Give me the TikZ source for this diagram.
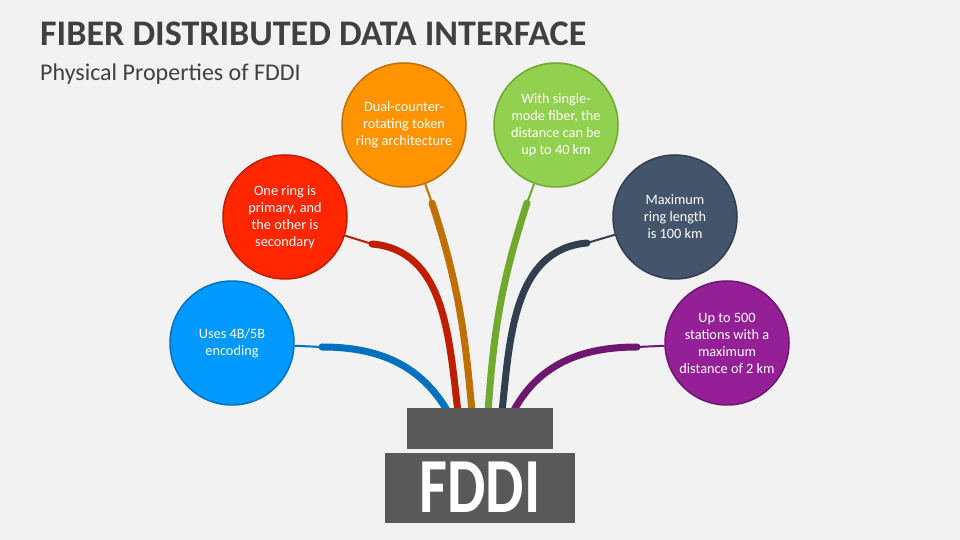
\documentclass[tikz,border=0pt]{standalone}
\usepackage{fontspec}
\usepackage{graphicx}
\setmainfont{Carlito}

\definecolor{bg}{HTML}{F2F2F2}
\definecolor{ink}{HTML}{404040}
\definecolor{plug}{HTML}{595959}
\definecolor{blueF}{HTML}{0099FF}\definecolor{blueD}{HTML}{0070C0}
\definecolor{redF}{HTML}{FF2600}\definecolor{redD}{HTML}{BF1E00}
\definecolor{orangeF}{HTML}{FF9300}\definecolor{orangeD}{HTML}{BF7000}
\definecolor{greenF}{HTML}{92D050}\definecolor{greenD}{HTML}{6FAA2F}
\definecolor{navyF}{HTML}{44546A}\definecolor{navyD}{HTML}{323F4F}
\definecolor{purpleF}{HTML}{941F96}\definecolor{purpleD}{HTML}{6E1770}

\tikzstyle{bubble} = [circle, minimum size = 124pt, inner sep = 0pt, line width = 1.5pt, text = white, align = center, font = \fontsize{14.3}{17}\selectfont]
\tikzstyle{lead} = [line width = 2pt]
\tikzstyle{fiber} = [line width = 7pt, line cap = round]
\tikzstyle{plugbox} = [fill = plug, draw = none]

\begin{document}
\begin{tikzpicture}[x = 1pt, y = 1pt]

    \useasboundingbox[fill = bg] (0,0) rectangle (960,540);

    \node(title)[anchor = base west, text = ink, font = \fontsize{36}{40}\selectfont\bfseries, inner sep = 0pt] at (40,494) {FIBER DISTRIBUTED DATA INTERFACE};
    \node(sub)[anchor = base west, text = ink, font = \fontsize{24}{28}\selectfont, inner sep = 0pt] at (40,459) {Physical Properties of FDDI};

    % bubbles
    \node(enc)[bubble, fill = blueF, draw = blueD] at (232,197) {Uses 4B/5B\\encoding};
    \node(ring)[bubble, fill = redF, draw = redD] at (285,323) {One ring is\\primary, and\\the other is\\secondary};
    \node(arch)[bubble, fill = orangeF, draw = orangeD] at (404,415) {Dual-counter-\\rotating token\\ring architecture};
    \node(mode)[bubble, fill = greenF, draw = greenD] at (556,415) {With single-\\mode fiber, the\\distance can be\\up to 40 km};
    \node(len)[bubble, fill = navyF, draw = navyD] at (675,323) {Maximum\\ring length\\is 100 km};
    \node(sta)[bubble, fill = purpleF, draw = purpleD] at (727,197) {Up to 500\\stations with a\\maximum\\distance of 2 km};

    % joints and plug entries
    \coordinate(encj) at (322,193);  \coordinate(ence) at (448,128);
    \coordinate(ringj) at (372,296); \coordinate(ringe) at (458,128);
    \coordinate(archj) at (432,337); \coordinate(arche) at (472,128);
    \coordinate(modej) at (527,337); \coordinate(modee) at (488,128);
    \coordinate(lenj) at (587,297);  \coordinate(lene) at (502,128);
    \coordinate(staj) at (637,193);  \coordinate(stae) at (513,128);

    \draw[lead, blueD](enc) -- (encj);
    \draw[lead, redD](ring) -- (ringj);
    \draw[lead, orangeD](arch) -- (archj);
    \draw[lead, greenD](mode) -- (modej);
    \draw[lead, navyD](len) -- (lenj);
    \draw[lead, purpleD](sta) -- (staj);

    \draw[fiber, blueD](encj) to[out = 0, in = 120] (ence);
    \draw[fiber, redD](ringj) to[out = -5, in = 97] (ringe);
    \draw[fiber, orangeD](archj) to[out = -72, in = 95] (arche);
    \draw[fiber, greenD](modej) to[out = -108, in = 86] (modee);
    \draw[fiber, navyD](lenj) to[out = 185, in = 84] (lene);
    \draw[fiber, purpleD](staj) to[out = 180, in = 62] (stae);

    % plug
    \node(top)[plugbox, minimum width = 146pt, minimum height = 41pt, inner sep = 0pt] at (480,111.5) {};
    \node(base)[plugbox, minimum width = 190pt, minimum height = 70pt, inner sep = 0pt] at (480,52) {};
    \node(name)[anchor = base, text = white, inner sep = 0pt, font = \fontsize{78}{80}\selectfont\bfseries] at (480,27) {\scalebox{0.78}[1]{FDDI}};

\end{tikzpicture}
\end{document}
